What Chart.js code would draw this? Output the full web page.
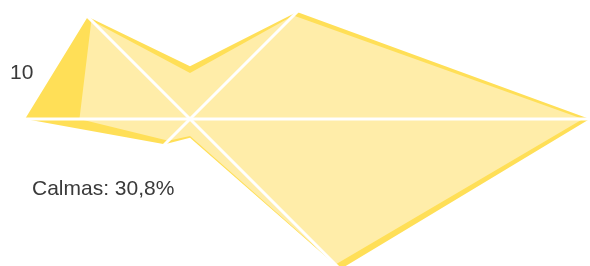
<!DOCTYPE html>
<html>
<head>
<meta charset="utf-8">
<script src="https://cdn.jsdelivr.net/npm/chart.js@4"></script>
<style>
  html, body { margin: 0; padding: 0; background: #fff; }
  #wrap { position: relative; width: 590px; height: 266px; overflow: hidden; }
  #rose { position: absolute; left: -310px; top: -381px; }
  .txt { position: absolute; font-family: "Liberation Sans", Arial, sans-serif; font-size: 21px; line-height: 21px; color: #3a3a3a; white-space: nowrap; }
</style>
</head>
<body>
<div id="wrap">
  <canvas id="rose" width="1000" height="1000"></canvas>
  <div class="txt" style="left:10px; top:61px;">10</div>
  <div class="txt" style="left:32px; top:177px;">Calmas: 30,8%</div>
</div>
<script>
// wind directions, clockwise from north
const directions = ['N', 'NE', 'E', 'SE', 'S', 'SO', 'O', 'NO'];
// frequency per direction (%)
const totalFreq = [3.1, 8.9, 23.5, 12.5, 1.1, 2.1, 9.7, 8.5];
const lightFreq = [2.7, 8.6, 23.1, 12.1, 1.0, 1.8, 6.5, 8.2];

const ctx = document.getElementById('rose').getContext('2d');
new Chart(ctx, {
  type: 'radar',
  data: {
    labels: directions,
    datasets: [{
      data: lightFreq,
      backgroundColor: '#ffeda9',
      borderWidth: 0,
      pointRadius: 0,
      fill: true
    }, {
      data: totalFreq,
      backgroundColor: '#ffdf57',
      borderWidth: 0,
      pointRadius: 0,
      fill: true
    }]
  },
  options: {
    responsive: false,
    animation: false,
    layout: { padding: 0 },
    plugins: { legend: { display: false }, tooltip: { enabled: false } },
    scales: {
      r: {
        min: 0,
        max: 29.4,
        grid: { display: false, z: 1 },
        ticks: { display: false },
        pointLabels: { display: false },
        angleLines: {
          // no line on the N-S axis in the original
          color: c => (c.index === 0 || c.index === 4) ? 'rgba(0,0,0,0)' : '#ffffff',
          lineWidth: 3
        }
      }
    }
  }
});
</script>
</body>
</html>
